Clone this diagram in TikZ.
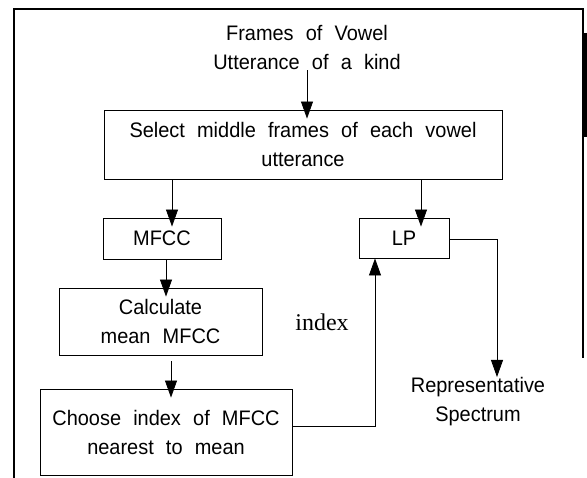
\documentclass[tikz,border=0pt]{standalone}
\usepackage{fontspec}
\setmainfont{Liberation Sans}[FakeStretch=0.95]
\newfontfamily\idxfont{Liberation Serif}
\usetikzlibrary{arrows.meta}
\newcommand\labelfont{\fontsize{21}{29}\selectfont\spaceskip=0.58em\relax}
\begin{document}
\begin{tikzpicture}[x=1pt,y=-1pt,
  every node/.style={font=\labelfont, align=center},
  box/.style={draw, line width=0.9pt, inner sep=0pt},
  link/.style={line width=0.8pt},
  arr/.style={link, -{Triangle[width=12pt,length=17pt]}},
  into/.style={shorten >=-9pt},
  frame/.style={line width=1.3pt}]
  \useasboundingbox (0,0) rectangle (587,478);

  % outer border
  \draw[frame] (14,478) -- (14,9) -- (583,9) -- (583,358);
  \draw[line width=3pt] (585,33) -- (585,137);

  % text and boxes
  \node[inner sep=0pt, anchor=base] (src) at (307,70) {Frames of Vowel\\Utterance of a kind};
  \node[box, minimum width=398pt, minimum height=69pt] (sel) at (303,144.5)
       {Select middle frames of each vowel\\utterance};
  \node[box, minimum width=118pt, minimum height=41pt] (mfcc) at (162,238.5) {MFCC};
  \node[box, minimum width=90pt, minimum height=40pt] (lp) at (404,238) {LP};
  \node[box, minimum width=203pt, minimum height=67pt] (calc) at (160.5,321.5)
       {Calculate\\mean MFCC};
  \node[box, minimum width=252pt, minimum height=86pt] (choose) at (166,432)
       {Choose index of MFCC\\nearest to mean};
  \node[inner sep=0pt, anchor=north] (rep) at (478,377) {Representative\\Spectrum};
  \node[font=\fontsize{24}{28}\idxfont] (idx) at (322,322) {index};

  % connectors
  \draw[arr, into] (src.south) -- (sel.north -| src.south);
  \draw[arr, into] ([xshift=10pt]mfcc.north |- sel.south) -- ([xshift=10pt]mfcc.north);
  \draw[arr, into] ([xshift=17pt]lp.north |- sel.south) -- ([xshift=17pt]lp.north);
  \draw[arr, into] ([xshift=4pt]mfcc.south) -- ([xshift=4pt]mfcc.south |- calc.north);
  \draw[arr, into, shorten <=6pt] ([xshift=10.5pt]calc.south) -- ([xshift=10.5pt]calc.south |- choose.north);
  \draw[arr] ([yshift=6pt]choose.east) -| ([xshift=-29pt]lp.south);
  \draw[arr] ([yshift=-1pt]lp.east) -| ([xshift=19pt]rep.north);
\end{tikzpicture}
\end{document}
